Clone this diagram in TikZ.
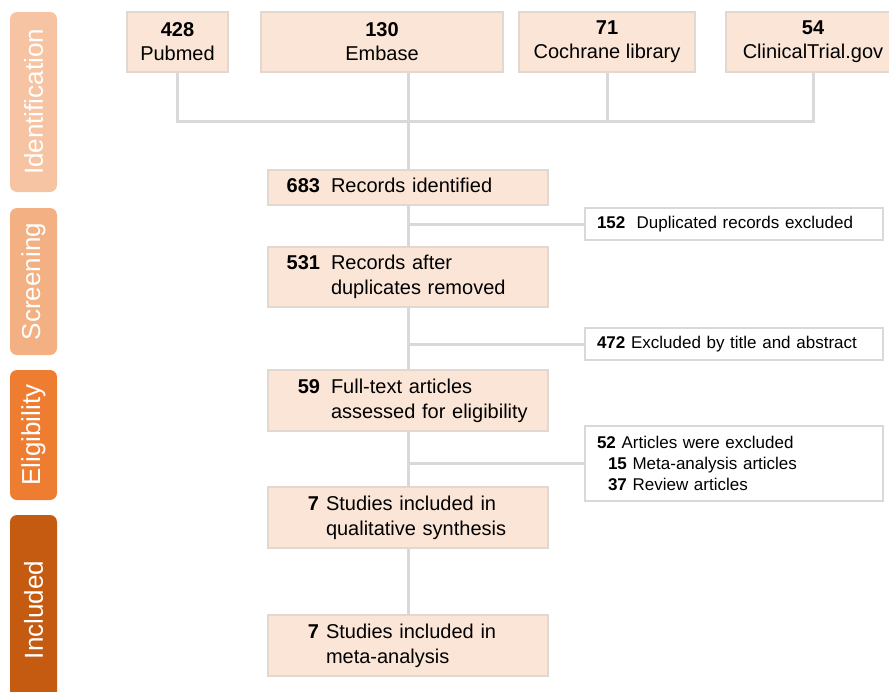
\documentclass[tikz,border=0pt]{standalone}
\usepackage{fontspec}
\setmainfont{Liberation Sans}
\definecolor{boxfill}{HTML}{FBE5D6}
\definecolor{boxline}{HTML}{E2D8D0}
\definecolor{connline}{HTML}{D9D9D9}
\definecolor{identcol}{HTML}{F6C4A2}
\definecolor{screencol}{HTML}{F3B083}
\definecolor{eligcol}{HTML}{EE7D32}
\definecolor{inclcol}{HTML}{C55A11}
\tikzset{
  srcbox/.style={draw=boxline, fill=boxfill, line width=1.5pt, minimum height=60pt,
    align=center, inner sep=0pt, font=\fontsize{20}{24}\selectfont},
  mainbox/.style={draw=boxline, fill=boxfill, line width=1.5pt, text width=256pt,
    align=left, inner xsep=12pt, inner ysep=0pt, font=\fontsize{20}{25}\selectfont},
  exclbox/.style={draw=connline, fill=white, line width=1.5pt, text width=274pt,
    align=left, inner xsep=12pt, inner ysep=0pt, font=\fontsize{17}{21}\selectfont},
  stage/.style={rounded corners=7pt, rotate=90, minimum height=47pt, inner sep=0pt,
    text=white, font=\fontsize{26}{30}\selectfont},
  conn/.style={draw=connline, line width=3pt},
}
\begin{document}
\begin{tikzpicture}[x=1pt, y=-1pt]
  \useasboundingbox (0,0) rectangle (889,691);

  % stages
  \node[stage, fill=identcol, minimum width=180pt] (ident) at (33.5,102) {Identification};
  \node[stage, fill=screencol, minimum width=147pt] (screen) at (33.5,281.5) {Screening};
  \node[stage, fill=eligcol, minimum width=130pt] (elig) at (33.5,435) {Eligibility};
  \node[stage, fill=inclcol, minimum width=190pt] (incl) at (33.5,610) {Included};

  % databases
  \node[srcbox, minimum width=101pt] (pubmed) at (177.5,42) {\textbf{428}\\Pubmed};
  \node[srcbox, minimum width=242pt] (embase) at (382,42) {\textbf{130}\\Embase};
  \node[srcbox, minimum width=176pt] (cochrane) at (607,42) {\textbf{71}\\Cochrane library};
  \node[srcbox, minimum width=174pt] (ctgov) at (813,42) {\textbf{54}\\ClinicalTrial.gov};

  % main flow
  \node[mainbox, minimum height=35pt] (b683) at (408,187.5)
    {\begin{tabular}{@{}p{40pt}@{\hspace{11pt}}l@{}}\hfill\textbf{683} & Records identified\end{tabular}};
  \node[mainbox, minimum height=60pt] (b531) at (408,277)
    {\begin{tabular}{@{}p{40pt}@{\hspace{11pt}}l@{}}\hfill\textbf{531} & Records after\\ & duplicates removed\end{tabular}};
  \node[mainbox, minimum height=61pt] (b59) at (408,400.5)
    {\begin{tabular}{@{}p{40pt}@{\hspace{11pt}}l@{}}\hfill\textbf{59} & Full-text articles\\ & assessed for eligibility\end{tabular}};
  \node[mainbox, minimum height=61pt] (qual) at (408,517.5)
    {\begin{tabular}{@{}p{39pt}@{\hspace{7pt}}l@{}}\hfill\textbf{7} & Studies included in\\ & qualitative synthesis\end{tabular}};
  \node[mainbox, minimum height=61pt] (meta) at (408,645.5)
    {\begin{tabular}{@{}p{39pt}@{\hspace{7pt}}l@{}}\hfill\textbf{7} & Studies included in\\ & meta-analysis\end{tabular}};

  % exclusions
  \node[exclbox, minimum height=32pt] (dup) at (734,224)
    {\textbf{152}\ \ Duplicated records excluded};
  \node[exclbox, minimum height=32pt] (title) at (734,344)
    {\textbf{472} Excluded by title and abstract};
  \node[exclbox, minimum height=75pt] (art) at (734,463.5)
    {\textbf{52} Articles were excluded\\
     \hspace*{11pt}\textbf{15} Meta-analysis articles\\
     \hspace*{11pt}\textbf{37} Review articles};

  % connectors
  \coordinate (bus) at (408,121);
  \draw[conn] (pubmed.south) |- (ctgov.south |- bus) -- (ctgov.south);
  \draw[conn] (cochrane.south) -- (cochrane.south |- bus);
  \draw[conn] (b683.north |- embase.south) -- (b683.north);
  \draw[conn] (b683) -- (b531);
  \draw[conn] (b531) -- (b59);
  \draw[conn] (b59) -- (qual);
  \draw[conn] (qual) -- (meta);
  \draw[conn] (b683.south |- dup.west) -- (dup.west);
  \draw[conn] (b531.south |- title.west) -- (title.west);
  \draw[conn] (b59.south |- art.west) -- (art.west);
\end{tikzpicture}
\end{document}
